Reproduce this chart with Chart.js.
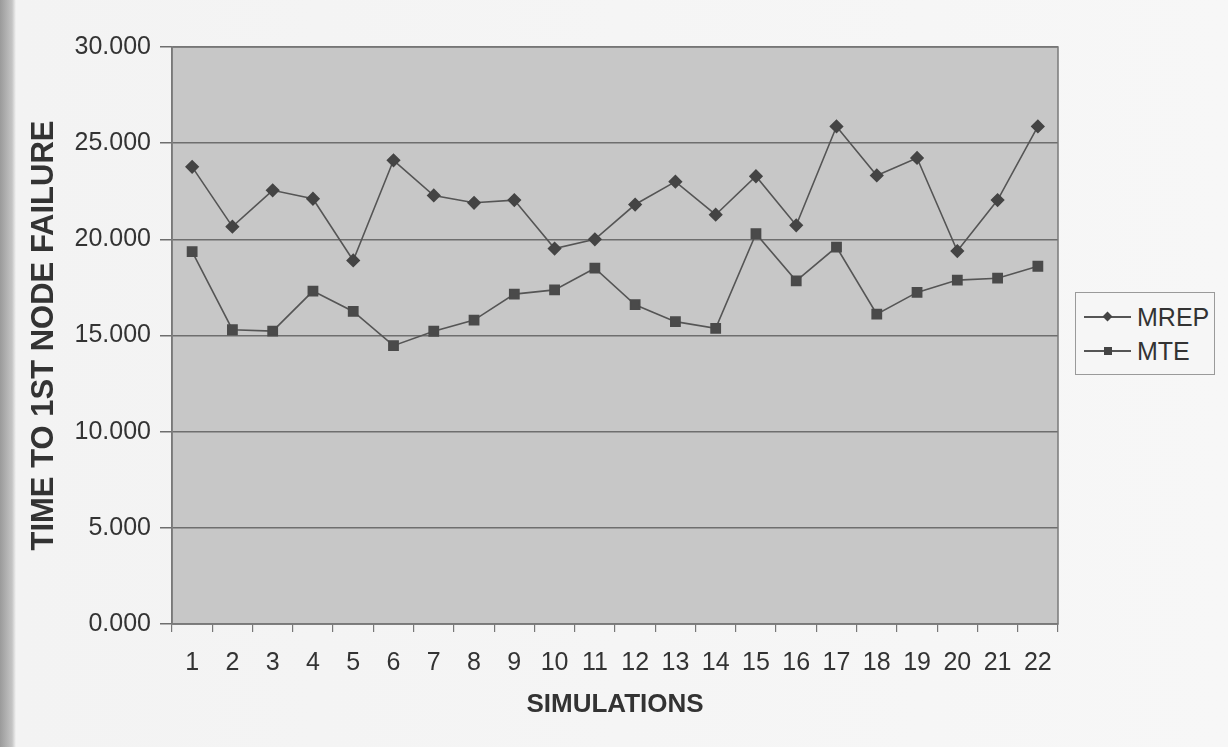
<!DOCTYPE html>
<html>
<head>
<meta charset="utf-8">
<title>Time to 1st node failure</title>
<script src="https://cdn.jsdelivr.net/npm/chart.js@4/dist/chart.umd.min.js"></script>
<style>
  html, body { margin: 0; padding: 0; }
  body {
    width: 1228px; height: 747px; overflow: hidden;
    background: linear-gradient(to right, #9a9a9a 0px, #c4c4c4 12px, #f3f3f3 16px, #f7f7f7 100%);
    font-family: "Liberation Sans", Arial, sans-serif;
  }
  #wrap { position: relative; width: 1228px; height: 747px; }
  #legend {
    position: absolute; left: 1075px; top: 292px; width: 140px; height: 83px;
    border: 1px solid #9a9a9a; background: #f6f6f6; box-sizing: border-box;
    padding: 7px 0 0 8px;
  }
  .item { display: flex; align-items: center; height: 34px; font-size: 25px; color: #333; }
  .sym { position: relative; width: 47px; height: 20px; margin-right: 6px; }
  .sym .ln { position: absolute; left: 0; right: 0; top: 9px; height: 2px; background: #555; }
  .sym .mk { position: absolute; left: 20px; top: 6px; width: 8px; height: 8px; background: #444; }
  .sym .mk.dia { transform: rotate(45deg); width: 7px; height: 7px; top: 6px; }
</style>
</head>
<body>
<div id="wrap">
  <canvas id="chart" width="1228" height="747"></canvas>
  <div id="legend">
    <div class="item"><span class="sym"><span class="ln"></span><span class="mk dia"></span></span>MREP</div>
    <div class="item"><span class="sym"><span class="ln"></span><span class="mk"></span></span>MTE</div>
  </div>
</div>
<script>
// data
var simulations = ['1', '2', '3', '4', '5', '6', '7', '8', '9', '10', '11',
                   '12', '13', '14', '15', '16', '17', '18', '19', '20', '21', '22']
var mrep = [23.77, 20.66, 22.55, 22.11, 18.90, 24.11, 22.28, 21.90, 22.04, 19.52, 20.00,
            21.81, 23.00, 21.28, 23.28, 20.73, 25.87, 23.32, 24.23, 19.39, 22.04, 25.87]
var mte = [19.36, 15.30, 15.23, 17.31, 16.25, 14.47, 15.22, 15.80, 17.15, 17.37, 18.50,
           16.60, 15.72, 15.37, 20.29, 17.84, 19.60, 16.11, 17.24, 17.88, 17.98, 18.60]
var yTicks = [0, 5, 10, 15, 20, 25, 30]

// grey plot area with a frame, like the old spreadsheet chart
var plotArea = {
    id: 'plotArea',
    beforeDraw: function (chart) {
        var a = chart.chartArea
        var ctx = chart.ctx
        ctx.save()
        ctx.fillStyle = '#c7c7c7'
        ctx.fillRect(a.left, a.top, a.right - a.left, a.bottom - a.top)
        ctx.restore()
    },
    afterDraw: function (chart) {
        var a = chart.chartArea
        var ctx = chart.ctx
        ctx.save()
        ctx.strokeStyle = '#7a7a7a'
        ctx.lineWidth = 1.5
        ctx.strokeRect(a.left, a.top, a.right - a.left, a.bottom - a.top)
        ctx.restore()
    }
}

Chart.defaults.font.family = '"Liberation Sans", Arial, sans-serif'
Chart.defaults.color = '#333'

var chart = new Chart(document.getElementById('chart'), {
    type: 'line',
    data: {
        labels: simulations,
        datasets: [
            {
                label: 'MREP',
                data: mrep,
                borderColor: '#555',
                borderWidth: 1.6,
                pointStyle: 'rectRot',
                pointRadius: 6,
                pointBackgroundColor: '#444',
                pointBorderColor: '#444',
                tension: 0
            },
            {
                label: 'MTE',
                data: mte,
                borderColor: '#555',
                borderWidth: 1.6,
                pointStyle: 'rect',
                pointRadius: 6.5,
                pointBackgroundColor: '#4a4a4a',
                pointBorderColor: '#4a4a4a',
                tension: 0
            }
        ]
    },
    options: {
        responsive: false,
        animation: false,
        layout: {
            padding: { top: 47, right: 170, bottom: 0, left: 0 }
        },
        plugins: {
            legend: { display: false },
            tooltip: { enabled: false }
        },
        scales: {
            x: {
                offset: true,
                grid: {
                    offset: true,
                    drawOnChartArea: false,
                    drawTicks: true,
                    tickLength: 8,
                    color: '#777',
                    lineWidth: 1.2
                },
                border: { color: '#777', width: 1.5 },
                ticks: {
                    font: { size: 25 },
                    color: '#333',
                    padding: 16,
                    maxRotation: 0,
                    autoSkip: false
                },
                title: {
                    display: true,
                    text: 'SIMULATIONS',
                    font: { size: 26, weight: 'bold' },
                    color: '#333',
                    padding: { top: 0, bottom: 27 }
                },
                afterFit: function (scale) { scale.height = 123 }
            },
            y: {
                min: 0,
                max: 30,
                afterBuildTicks: function (scale) {
                    scale.ticks = yTicks.map(function (v) { return { value: v } })
                },
                grid: {
                    color: '#6e6e6e',
                    lineWidth: 1.5,
                    tickLength: 12
                },
                border: { color: '#777', width: 1.5 },
                ticks: {
                    font: { size: 25 },
                    color: '#333',
                    padding: 9,
                    callback: function (v) { return Number(v).toFixed(3) }
                },
                title: {
                    display: true,
                    text: 'TIME TO 1ST NODE FAILURE',
                    font: { size: 31, weight: 'bold' },
                    color: '#333',
                    padding: { top: 26, bottom: 0 }
                },
                afterFit: function (scale) { scale.width = 172 }
            }
        }
    },
    plugins: [plotArea]
})
</script>
</body>
</html>
